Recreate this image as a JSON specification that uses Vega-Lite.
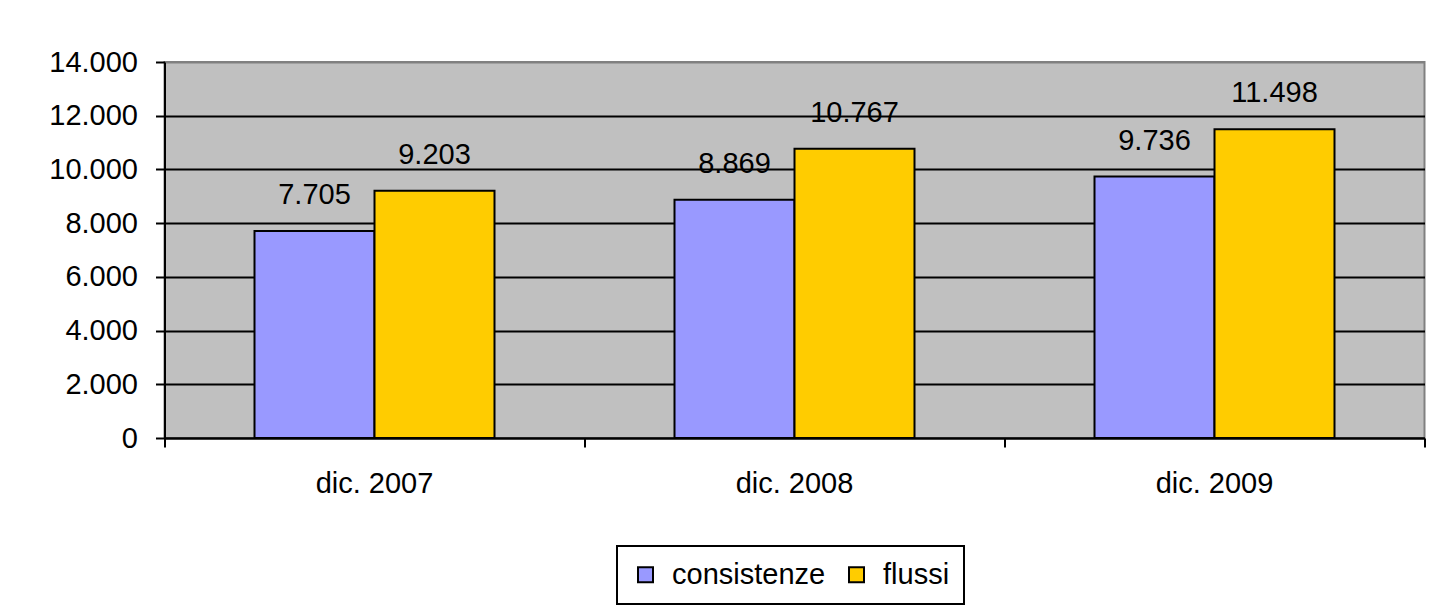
{
  "$schema": "https://vega.github.io/schema/vega-lite/v6.json",
  "width": 1260,
  "height": 376,
  "autosize": {"type": "none"},
  "padding": {"left": 164.5, "top": 62, "right": 8.5, "bottom": 175},
  "background": "white",
  "config": {
    "locale": {"number": {"decimal": ",", "thousands": ".", "grouping": [3], "currency": ["", " €"]}},
    "font": "Liberation Sans",
    "view": {"fill": "#C0C0C0", "stroke": "#808080", "strokeWidth": 2},
    "axis": {
      "labelFont": "Liberation Sans",
      "labelFontSize": 29,
      "labelColor": "black",
      "domainColor": "black",
      "domainWidth": 2,
      "tickColor": "black",
      "tickWidth": 2,
      "tickSize": 9,
      "title": null
    },
    "legend": {
      "labelFont": "Liberation Sans",
      "labelFontSize": 29,
      "labelColor": "black"
    }
  },
  "data": {
    "values": [
      {"periodo": "dic. 2007", "serie": "consistenze", "valore": 7705},
      {"periodo": "dic. 2007", "serie": "flussi", "valore": 9203},
      {"periodo": "dic. 2008", "serie": "consistenze", "valore": 8869},
      {"periodo": "dic. 2008", "serie": "flussi", "valore": 10767},
      {"periodo": "dic. 2009", "serie": "consistenze", "valore": 9736},
      {"periodo": "dic. 2009", "serie": "flussi", "valore": 11498}
    ]
  },
  "encoding": {
    "x": {
      "field": "periodo",
      "type": "nominal",
      "sort": null,
      "scale": {"paddingInner": 0, "paddingOuter": 0},
      "axis": {
        "bandPosition": 1,
        "tickExtra": true,
        "labelAngle": 0,
        "labelPadding": 22,
        "grid": false
      }
    },
    "xOffset": {
      "field": "serie",
      "type": "nominal",
      "sort": ["consistenze", "flussi"],
      "scale": {"paddingInner": 0, "paddingOuter": 0.75}
    },
    "y": {
      "field": "valore",
      "type": "quantitative",
      "scale": {"domain": [0, 14000], "nice": false},
      "axis": {
        "values": [0, 2000, 4000, 6000, 8000, 10000, 12000, 14000],
        "format": ",.0f",
        "labelPadding": 18,
        "grid": true,
        "gridWidth": 2,
        "gridColor": {"condition": {"test": "datum.value === 14000", "value": "#808080"}, "value": "black"}
      }
    }
  },
  "layer": [
    {
      "mark": {"type": "bar", "stroke": "black", "strokeWidth": 2},
      "encoding": {
        "fill": {
          "field": "serie",
          "type": "nominal",
          "scale": {"domain": ["consistenze", "flussi"], "range": ["#9999FF", "#FFCC00"]},
          "legend": {
            "title": null,
            "orient": "none",
            "direction": "horizontal",
            "legendX": 452.5,
            "legendY": 484,
            "padding": 14,
            "strokeColor": "black",
            "fillColor": "white",
            "symbolType": "square",
            "symbolSize": 225,
            "symbolStrokeColor": "black",
            "symbolStrokeWidth": 2,
            "symbolOpacity": 1,
            "labelOffset": 12,
            "columnPadding": 16,
            "encode": {"legend": {"update": {"strokeWidth": {"value": 2}}}}
          }
        }
      }
    },
    {
      "mark": {"type": "text", "fontSize": 29, "color": "black", "baseline": "alphabetic", "dy": -27},
      "encoding": {
        "text": {"field": "valore", "type": "quantitative", "format": ",.0f"}
      }
    }
  ]
}
